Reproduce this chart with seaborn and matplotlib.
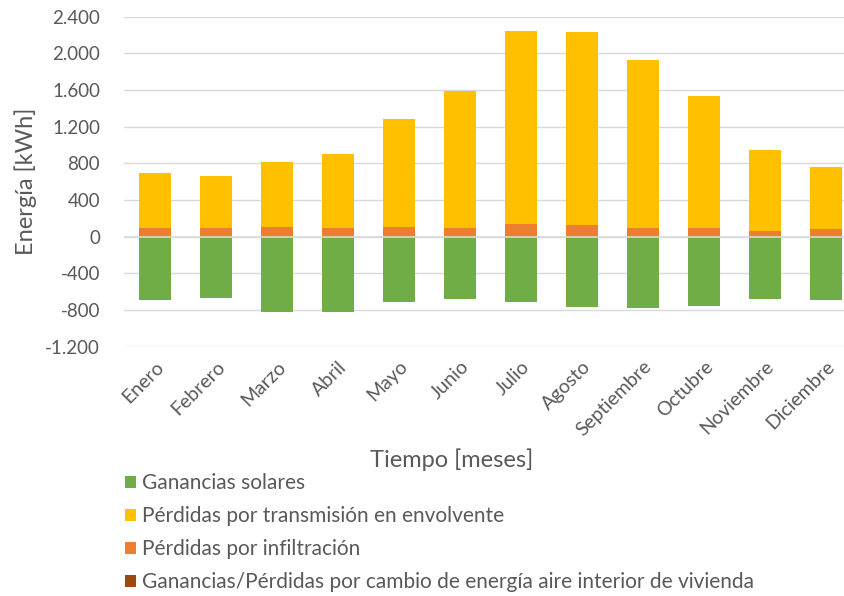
import matplotlib
matplotlib.use("Agg")
import matplotlib.pyplot as plt
import seaborn as sns
import numpy as np
from matplotlib.patches import Patch
from matplotlib.ticker import FuncFormatter

meses = ["Enero", "Febrero", "Marzo", "Abril", "Mayo", "Junio", "Julio",
         "Agosto", "Septiembre", "Octubre", "Noviembre", "Diciembre"]
ganancias_solares = [-690, -665, -825, -825, -710, -680, -710, -765, -780, -755, -680, -695]
perd_transmision = [595, 565, 705, 810, 1170, 1490, 2105, 2105, 1830, 1440, 880, 680]
perd_infiltracion = [95, 95, 110, 95, 110, 95, 140, 125, 95, 95, 65, 80]
cambio_aire = [0, 0, 0, 0, 0, 0, 0, 0, 0, 0, 0, 0]

nombres = ["Ganancias solares",
           "Pérdidas por transmisión en envolvente",
           "Pérdidas por infiltración",
           "Ganancias/Pérdidas por cambio de energía aire interior de vivienda"]
colores = ["#70AD47", "#FFC000", "#ED7D31", "#9E480E"]

sns.set_theme(style="white")
plt.rcParams["font.family"] = ["Lato", "DejaVu Sans"]
texto = "#595959"

fig = plt.figure(figsize=(8.45, 5.96), dpi=100)
ax = fig.add_axes([124.5 / 845, 1 - 346.7 / 596, 732 / 845, (346.7 - 16.7) / 596])

infil = np.array(perd_infiltracion)
total = infil + np.array(perd_transmision)

# apilado: total primero, luego infiltración encima
opts = dict(width=0.52, saturation=1, errorbar=None, ax=ax, zorder=3, linewidth=0)
sns.barplot(x=meses, y=total, color=colores[1], **opts)
sns.barplot(x=meses, y=infil, color=colores[2], **opts)
sns.barplot(x=meses, y=ganancias_solares, color=colores[0], **opts)
sns.barplot(x=meses, y=cambio_aire, color=colores[3], **opts)

ax.set_xlim(-0.5, 11.5)
ax.set_ylim(-1200, 2400)
ax.set_yticks(np.arange(-1200, 2401, 400))
ax.yaxis.set_major_formatter(FuncFormatter(lambda v, p: f"{int(v):,}".replace(",", ".")))
ax.grid(axis="y", color="#D9D9D9", linewidth=1, zorder=0)
ax.axhline(0, color="#D9D9D9", linewidth=1.2, zorder=4)
for s in ax.spines.values():
    s.set_visible(False)

ax.tick_params(axis="y", labelsize=13.5, labelcolor=texto, length=0, pad=17.5)
ax.tick_params(axis="x", labelsize=14, labelcolor=texto, length=0, pad=8)
plt.setp(ax.get_xticklabels(), rotation=45, ha="right", rotation_mode="anchor")

ax.set_ylabel("Energía [kWh]", fontsize=17, color=texto, labelpad=6)
ax.set_xlabel("Tiempo [meses]", fontsize=17, color=texto)
ax.xaxis.set_label_coords((452 - 124.5) / 732, -(448 - 346.7) / 330)

handles = [Patch(facecolor=c, edgecolor="none") for c in colores]
fig.legend(handles, nombres, loc="upper left", bbox_to_anchor=(117 / 845, 1 - 465 / 596),
           frameon=False, fontsize=15, labelcolor=texto, handlelength=0.5,
           handleheight=0.5, handletextpad=0.3, labelspacing=0.62, borderaxespad=0)

fig.savefig("out.png", dpi=100)
